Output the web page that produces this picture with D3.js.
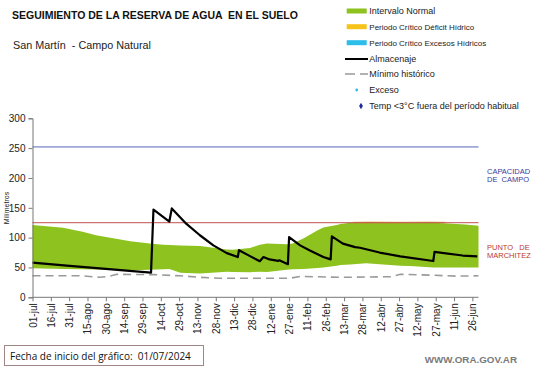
<!DOCTYPE html>
<html><head><meta charset="utf-8">
<script src="https://cdn.jsdelivr.net/npm/d3@7"></script>
<style>body{margin:0;background:#fff}svg{display:block;font-family:"Liberation Sans",Arial,sans-serif}text{white-space:pre}</style>
</head><body><svg id="c" width="541" height="368"></svg>
<script>
// ---- data ----
const xTickDays = d3.range(0, 361, 15);
const xTickLabels = ["01-jul","16-jul","31-jul","15-ago","30-ago","14-sep","29-sep","14-oct","29-oct","13-nov","28-nov","13-dic","28-dic","12-ene","27-ene","11-feb","26-feb","13-mar","28-mar","12-abr","27-abr","12-may","27-may","11-jun","26-jun"];
const yTicks = [0,50,100,150,200,250,300];

const bandDays   = [0,25,41,52,80,96,107,112,121,137,159,164,178,186,192,208,213,222,233,238,249,252,260,273,301,309,328,333,354,365];
const bandTop    = [121,116.5,110,104,94,90,88,87.5,87,86,80,79.5,82.5,88,90,89,90,99,112,117,121,123,125,125.5,125,125,125,124.5,122,120];
const bandBottom = [48.5,47.5,47,46.5,45.5,46,47,47.5,41,40,43,42.5,42,43,42.5,46,47,47.5,49,50,53,54,55,57,53,52.5,50,50,50,50];

const almDays   = [0,28,55,82,97,99,112,114,120,126,137,148,159,168,169,178,186,189,194,201,202,209,210,219,227,238,244,245,254,264,268,284,301,328,329,352,364];
const almValues = [58,53,48.5,44,41.5,147,127,149,136,123,104,87,74,67.5,79,69,60.5,67.5,63.5,61,62,55.5,101,87,78.5,67.5,63.5,102,90,84,83,75,68.7,60.8,76,70,68.5];

const minDays   = [0,40,55,62,69,99,121,137,153,180,211,219,252,293,301,328,347,365];
const minValues = [36,36,33.5,35,38.5,38,36,33.5,32,32,32,35,33.5,34.5,38.5,37,35.5,36];

const deficitDays = [262,275,300,325,338];
const deficitValues = [125.3,125.8,125.5,125.6,125.2];

const capacidadCampo = 252;
const puntoMarchitez = 125;

const legendLabels = ["Intervalo Normal","Periodo Crítico Déficit Hídrico","Periodo Crítico Excesos Hídricos","Almacenaje","Mínimo histórico","Exceso","Temp <3°C fuera del período habitual"];
const legendTypes  = ["bar","bar","bar","line","dash","dot","diamond"];
const legendColors = ["#8dc21f","#f7c31a","#2cbde8","#000","#999","#2cbde8","#1a2a9a"];

// ---- chart ----
const svg = d3.select("#c");
const x = d3.scaleLinear().domain([0,365]).range([32.5,478.5]);
const y = d3.scaleLinear().domain([0,300]).range([297.3,118.3]);

// band
const bandData = bandDays.map((d,i)=>({d, t:bandTop[i], b:bandBottom[i]}));
svg.append("path").datum(bandData)
  .attr("d", d3.area().x(p=>x(p.d)).y0(p=>y(p.b)).y1(p=>y(p.t)))
  .attr("fill","#8dc21f");

// deficit hint
svg.append("path").datum(deficitDays.map((d,i)=>[d,deficitValues[i]]))
  .attr("d", d3.line().x(p=>x(p[0])).y(p=>y(p[1])))
  .attr("fill","none").attr("stroke","#e0a030").attr("stroke-width",1.5).attr("opacity",0.7);

// reference lines
svg.append("line").attr("x1",x(0)).attr("x2",x(365)).attr("y1",y(capacidadCampo)).attr("y2",y(capacidadCampo))
  .attr("stroke","#5567b8").attr("stroke-width",1);
svg.append("line").attr("x1",x(0)).attr("x2",x(365)).attr("y1",y(puntoMarchitez)).attr("y2",y(puntoMarchitez))
  .attr("stroke","#c0504d").attr("stroke-width",1);

// minimum
svg.append("path").datum(minDays.map((d,i)=>[d,minValues[i]]))
  .attr("d", d3.line().x(p=>x(p[0])).y(p=>y(p[1])))
  .attr("fill","none").attr("stroke","#9a9a9a").attr("stroke-width",1.6).attr("stroke-dasharray","8,5");

// almacenaje
svg.append("path").datum(almDays.map((d,i)=>[d,almValues[i]]))
  .attr("d", d3.line().x(p=>x(p[0])).y(p=>y(p[1])))
  .attr("fill","none").attr("stroke","#000").attr("stroke-width",2.2).attr("stroke-linejoin","round");

// axes
const yAxis = svg.append("g").attr("transform",`translate(${x(0)},0)`)
  .call(d3.axisLeft(y).tickValues(yTicks).tickSize(4).tickPadding(3));
yAxis.selectAll("text").attr("font-size","10px").attr("fill","#222").attr("font-family","Liberation Sans, Arial");
yAxis.selectAll("line,path").attr("stroke","#777");

const xAxis = svg.append("g").attr("transform",`translate(0,${y(0)})`)
  .call(d3.axisBottom(x).tickValues(xTickDays).tickFormat((d,i)=>xTickLabels[i]).tickSize(4).tickSizeOuter(0));
xAxis.select(".domain").attr("d", `M${x(0)},0H${x(365)}`);
xAxis.selectAll("line,path").attr("stroke","#777");
xAxis.selectAll("text").attr("font-size","10px").attr("fill","#222").attr("font-family","Liberation Sans, Arial")
  .attr("text-anchor","end").attr("transform","rotate(-90)").attr("x",-6).attr("y",0).attr("dy","0.35em");

// y label
svg.append("text").attr("transform",`translate(9,208) rotate(-90)`).attr("text-anchor","middle")
  .attr("font-size","7px").attr("fill","#222").text("Milímetros");

// titles
svg.append("text").attr("x",12).attr("y",18.5).attr("font-size","10.5px").attr("font-weight","bold").attr("fill","#111")
  .text("SEGUIMIENTO DE LA RESERVA DE AGUA  EN EL SUELO");
svg.append("text").attr("x",13).attr("y",48.5).attr("font-size","10.8px").attr("fill","#222")
  .text("San Martín  - Campo Natural");

// right labels
const rl = svg.append("g").attr("font-size","7.5px");
rl.append("text").attr("x",487).attr("y",173.5).attr("fill","#3a3aa0").text("CAPACIDAD");
rl.append("text").attr("x",487).attr("y",182).attr("fill","#3a3aa0").text("DE  CAMPO");
rl.append("text").attr("x",487).attr("y",249.5).attr("fill","#c0392b").text("PUNTO   DE");
rl.append("text").attr("x",487).attr("y",258).attr("fill","#c0392b").text("MARCHITEZ");

// legend
const lg = svg.append("g");
const rowY = [11,26.7,42.7,59,74,90,106];
legendLabels.forEach((label,i)=>{
  const cy = rowY[i], t = legendTypes[i], col = legendColors[i];
  if(t==="bar") lg.append("rect").attr("x",346.7).attr("y",cy-2.5).attr("width",20).attr("height",5).attr("fill",col);
  if(t==="line") lg.append("line").attr("x1",345).attr("x2",368).attr("y1",cy).attr("y2",cy).attr("stroke","#000").attr("stroke-width",2);
  if(t==="dash") lg.append("line").attr("x1",345).attr("x2",368).attr("y1",cy).attr("y2",cy).attr("stroke",col).attr("stroke-width",1.5).attr("stroke-dasharray","10,5");
  if(t==="dot") lg.append("circle").attr("cx",356.7).attr("cy",cy).attr("r",1.4).attr("fill",col);
  if(t==="diamond") lg.append("path").attr("d",d3.symbol().type(d3.symbolDiamond).size(12)).attr("transform",`translate(361,${cy})`).attr("fill",col);
  lg.append("text").attr("x",369.3).attr("y",cy).attr("dy","0.35em")
    .attr("font-size", (i===1||i===2)?"8px":"9px").attr("fill","#222").text(label);
});

// footer
svg.append("rect").attr("x",4.5).attr("y",345.5).attr("width",199).attr("height",20).attr("fill","#fff").attr("stroke","#a08585").attr("stroke-width",1);
svg.append("text").attr("x",10).attr("y",359.5).attr("font-size","10px").attr("fill","#111").attr("font-family","Open Sans, sans-serif")
  .text("Fecha de inicio del gráfico:  01/07/2024");
svg.append("text").attr("x",517).attr("y",363).attr("text-anchor","end").attr("font-size","9.8px").attr("font-weight","bold").attr("fill","#7a7a7a")
  .text("WWW.ORA.GOV.AR");
</script></body></html>
